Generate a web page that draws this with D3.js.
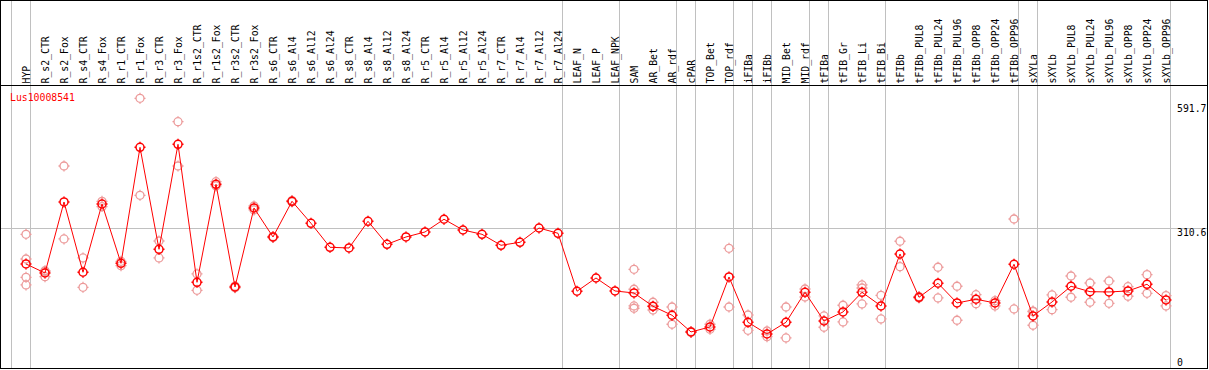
<!DOCTYPE html>
<html>
  <head>
    <script src="https://d3js.org/d3.v7.min.js"></script>
    <style type="text/css">
  body { margin: 0; background: #fff; }
  text { font-family: "DejaVu Sans Mono", monospace; font-size: 9.8px; }
  .frame, .sep { shape-rendering: crispEdges; }
    </style>
  </head>
  <body>
  <div id="container"></div>
  <script type="text/javascript">

  var title = "Lus10008541";

  var categories = ["HYP","R_s2_CTR","R_s2_Fox","R_s4_CTR","R_s4_Fox","R_r1_CTR","R_r1_Fox","R_r3_CTR","R_r3_Fox",
    "R_r1s2_CTR","R_r1s2_Fox","R_r3s2_CTR","R_r3s2_Fox","R_s6_CTR","R_s6_Al4","R_s6_Al12","R_s6_Al24",
    "R_s8_CTR","R_s8_Al4","R_s8_Al12","R_s8_Al24","R_r5_CTR","R_r5_Al4","R_r5_Al12","R_r5_Al24",
    "R_r7_CTR","R_r7_Al4","R_r7_Al12","R_r7_Al24","LEAF_N","LEAF_P","LEAF_NPK","SAM","AR_Bet","AR_rdf",
    "cPAR","TOP_Bet","TOP_rdf","iFIBa","iFIBb","MID_Bet","MID_rdf","tFIBa","tFIB_Gr","tFIB_Li","tFIB_Bi",
    "tFIBb","tFIBb_PUL8","tFIBb_PUL24","tFIBb_PUL96","tFIBb_OPP8","tFIBb_OPP24","tFIBb_OPP96",
    "sXYLa","sXYLb","sXYLb_PUL8","sXYLb_PUL24","sXYLb_PUL96","sXYLb_OPP8","sXYLb_OPP24","sXYLb_OPP96"];

  // mean expression per sample
  var means = [233.4,213.9,367.5,215.5,363.1,234.9,485.7,265.2,492.2,
    193.8,405.7,183.7,354.5,291.8,369.0,321.4,269.5,
    268.0,325.7,276.0,291.8,302.6,330.1,306.9,297.6,
    273.8,280.3,311.2,299.8,174.4,203.1,175.0,170.7,141.9,122.5,
    86.4,97.2,205.3,107.3,82.0,107.3,172.2,110.1,129.6,172.2,142.6,
    255.0,161.4,191.7,149.1,157.1,149.1,232.8,
    121.0,151.2,185.2,173.5,172.9,175.0,189.5,155.6];

  // individual replicates
  var replicates = [[297.6,244.2,204.6,188.0],[218.9,205.9,217.0],[445.3,287.5],[246.4,183.0],[369.0,357.5],
    [239.2,229.7],[591.7,381.9],[283.1,246.4],[541.1,445.3],
    [211.8,176.5],[411.4,402.1],[185.5,181.9],[350.2,358.8],[293.0,290.6],[370.5,367.5],[],[],
    [],[],[],[],[],[],[],[],
    [],[],[],[],[],[],[],[221.9,178.7,142.6,137.6],[150.6,141.5,133.9],[140.4,103.0],
    [87.5,85.3],[103.0,92.2],[267.3,140.4],[123.1,90.0],[88.5,76.2],[140.4,73.4],[179.3,162.0],
    [121.0,96.6],[144.1,108.0],[188.0,181.5,146.9],[165.7,114.5],
    [282.5,227.6],[163.0,159.8],[226.3,159.9],[185.2,111.7],[167.0,147.6],[154.0,142.6],[330.7,136.1],
    [130.3,131.5,100.9],[166.4,134.6],[207.4,161.4],[192.3,150.6],[196.6,148.4],[184.3,163.6],
    [210.3,170.0],[164.9,142.6]];

  // first sample of each group (grey separator before it)
  var groupStarts = ["HYP","R_s2_CTR","LEAF_N","SAM","cPAR","TOP_Bet","iFIBa","iFIBb","MID_Bet",
    "tFIBa","tFIB_Gr","tFIBb","sXYLa","sXYLb"];

  var yTicks = [591.7, 310.6, 0];
  var refLine = 310.6;

  var width = 1209,
    height = 370,
    headerBottom = 85.5;

  var svg = d3.select("#container")
    .append("svg")
    .attr("width", width)
    .attr("height", height);

  var x = d3.scalePoint()
    .domain(categories)
    .range([26, 1166]);

  var y = d3.scaleLinear()
    .domain([0, 591.7])
    .range([371.9, 98.3]);

  //grey separators
  var sepX = groupStarts.map(function(c) { return x(c) - 15; });
  sepX.push(x(categories[categories.length - 1]) + 4);

  svg.append("g")
    .selectAll("line")
    .data(sepX)
    .enter().append("line")
      .attr("class", "sep")
      .attr("x1", function(d) { return d + 0.5; })
      .attr("x2", function(d) { return d + 0.5; })
      .attr("y1", 0)
      .attr("y2", 368)
      .attr("stroke", "#c0c0c0");

  svg.append("line")
    .attr("class", "sep")
    .attr("x1", 0).attr("x2", 1207)
    .attr("y1", Math.round(y(refLine)) + 0.5)
    .attr("y2", Math.round(y(refLine)) + 0.5)
    .attr("stroke", "#c0c0c0");

  //frame + header line
  svg.append("rect")
    .attr("class", "frame")
    .attr("x", 0.5).attr("y", 0.5)
    .attr("width", 1207).attr("height", 368)
    .attr("fill", "none")
    .attr("stroke", "#000");

  svg.append("line")
    .attr("class", "frame")
    .attr("x1", 0).attr("x2", 1208)
    .attr("y1", headerBottom).attr("y2", headerBottom)
    .attr("stroke", "#000");

  //rotated sample labels
  svg.append("g")
    .selectAll("text")
    .data(categories)
    .enter().append("text")
      .attr("transform", function(d) { return "translate(" + (x(d) + 3.5) + ",83.5) rotate(-90)"; })
      .attr("fill", "#000")
      .text(function(d) { return d; });

  //right value labels
  svg.append("g")
    .selectAll("text")
    .data(yTicks)
    .enter().append("text")
      .attr("x", 1177)
      .attr("y", function(d) { return Math.max(112, Math.min(366, y(d) + 8)); })
      .attr("fill", "#000")
      .text(function(d) { return d; });

  svg.append("text")
    .attr("x", 10)
    .attr("y", 101)
    .attr("fill", "#ff0000")
    .text(title);

  function marker(r) {
    return "M" + (-r) + ",0A" + r + "," + r + " 0 1,0 " + r + ",0A" + r + "," + r + " 0 1,0 " + (-r) + ",0" +
      "M0," + (-r - 1.5) + "V" + (-r + 0.5) + "M0," + (r - 0.5) + "V" + (r + 1.5) +
      "M" + (-r - 1.5) + ",0H" + (-r + 0.5) + "M" + (r - 0.5) + ",0H" + (r + 1.5);
  }

  //replicates
  var reps = [];
  replicates.forEach(function(list, i) {
    list.forEach(function(v) { reps.push({c: categories[i], v: v}); });
  });

  svg.append("g")
    .selectAll("path")
    .data(reps)
    .enter().append("path")
      .attr("transform", function(d) { return "translate(" + x(d.c) + "," + y(d.v) + ")"; })
      .attr("d", marker(4))
      .attr("fill", "none")
      .attr("stroke", "#ec9a9a")
      .attr("stroke-width", 1.3);

  //mean line
  var line = d3.line()
    .x(function(d, i) { return x(categories[i]); })
    .y(function(d) { return y(d); });

  svg.append("path")
    .datum(means)
    .attr("d", line)
    .attr("fill", "none")
    .attr("stroke", "#ff0000")
    .attr("stroke-width", 1);

  svg.append("g")
    .selectAll("path")
    .data(means)
    .enter().append("path")
      .attr("transform", function(d, i) { return "translate(" + x(categories[i]) + "," + y(d) + ")"; })
      .attr("d", marker(4))
      .attr("fill", "none")
      .attr("stroke", "#ff0000")
      .attr("stroke-width", 1.5);

  </script>
  </body>
</html>
